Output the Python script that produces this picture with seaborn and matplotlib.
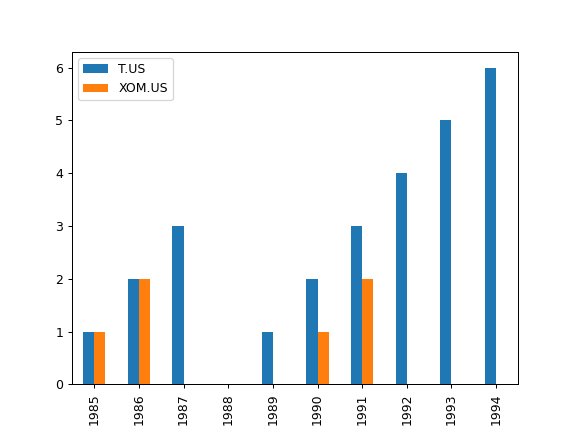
import matplotlib
matplotlib.use("Agg")
import matplotlib.pyplot as plt
import seaborn as sns
import pandas as pd

years = ["1985", "1986", "1987", "1988", "1989", "1990", "1991", "1992", "1993", "1994"]
t_us = [1, 2, 3, 0, 1, 2, 3, 4, 5, 6]
xom_us = [1, 2, 0, 0, 0, 1, 2, 0, 0, 0]
series_names = ["T.US", "XOM.US"]

df = pd.DataFrame({
    "year": years * 2,
    "value": t_us + xom_us,
    "series": [series_names[0]] * len(years) + [series_names[1]] * len(years),
})

fig, ax = plt.subplots(figsize=(6.4, 4.8), dpi=90)
sns.barplot(data=df, x="year", y="value", hue="series",
            palette=["#1f77b4", "#ff7f0e"], width=0.5, gap=0,
            saturation=1, errorbar=None, ax=ax, legend=False)
ax.set_xlabel("")
ax.set_ylabel("")
ax.tick_params(axis="x", rotation=90)
ax.legend(ax.containers, series_names, loc="upper left")
fig.savefig("out.png", dpi=90)
